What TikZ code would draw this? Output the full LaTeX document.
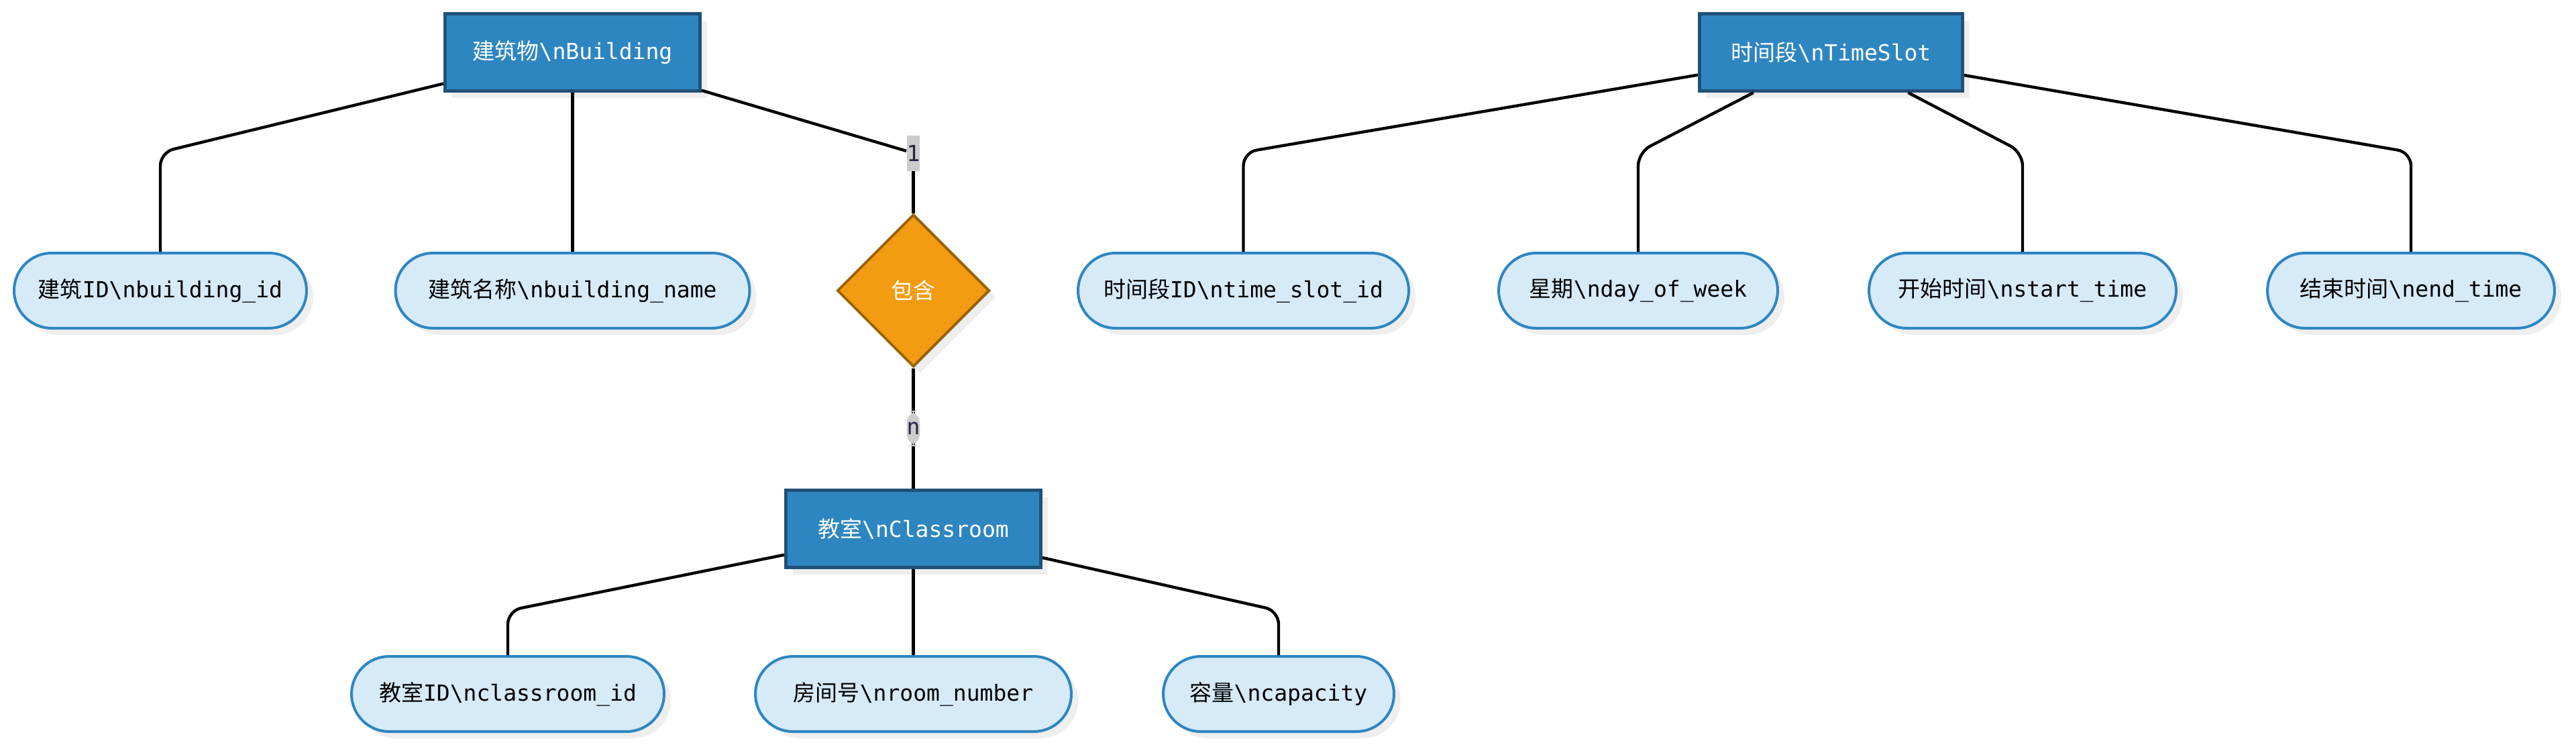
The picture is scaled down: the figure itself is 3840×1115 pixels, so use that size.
\documentclass[tikz,border=0pt]{standalone}
\usepackage{fontspec}
\setmonofont{DejaVu Sans Mono}
\newfontfamily\cjk{Noto Sans CJK SC}
\newcommand{\zh}[1]{{\cjk #1}}
\usetikzlibrary{shapes.geometric,shadows}
\definecolor{entfill}{HTML}{2E86C1}
\definecolor{entline}{HTML}{205078}
\definecolor{attfill}{HTML}{D6EAF8}
\definecolor{attline}{HTML}{2E86C1}
\definecolor{relfill}{HTML}{F39C12}
\definecolor{relline}{HTML}{9A6309}
\definecolor{shadowgray}{HTML}{EEEEEE}
\definecolor{cardfill}{HTML}{CCCCCC}
\definecolor{cardtext}{HTML}{262645}
\begin{document}
\begin{tikzpicture}[x=0.5pt,y=-0.5pt,
  every node/.style={font=\ttfamily\fontsize{16.5pt}{20pt}\selectfont},
  shade/.style={drop shadow={shadow xshift=5pt,shadow yshift=-5pt,fill=shadowgray,opacity=1}},
  entity/.style={shade,draw=entline,fill=entfill,line width=2.5pt,text=white,minimum height=57.5pt,minimum width=#1},
  attr/.style={shade,draw=attline,fill=attfill,line width=2pt,rounded corners=28pt,minimum height=56pt,minimum width=#1},
  rel/.style={shade,diamond,aspect=1,draw=relline,fill=relfill,line width=2pt,text=white,inner sep=0pt,minimum size=113.5pt},
  card/.style={fill=cardfill,text=cardtext,inner xsep=0pt,inner ysep=0pt,minimum height=26.5pt},
  conn/.style={line width=2.2pt,rounded corners=10pt}]
\useasboundingbox (0,0) rectangle (3840,1115);

\node[entity=190pt] (b) at (853.5,78) {\zh{建筑物}\textbackslash nBuilding};
\node[entity=196pt] (t) at (2729.5,78) {\zh{时间段}\textbackslash nTimeSlot};
\node[entity=190pt] (c) at (1361.5,788) {\zh{教室}\textbackslash nClassroom};
\node[rel] (h) at (1361.5,433) {\zh{包含}};

\node[attr=218pt] (b1) at (239,433) {\zh{建筑}ID\textbackslash nbuilding\_id};
\node[attr=264pt] (b2) at (853.5,433) {\zh{建筑名称}\textbackslash nbuilding\_name};
\node[attr=246.5pt] (t1) at (1853.5,433) {\zh{时间段}ID\textbackslash ntime\_slot\_id};
\node[attr=208pt] (t2) at (2442,433) {\zh{星期}\textbackslash nday\_of\_week};
\node[attr=229pt] (t3) at (3015,433) {\zh{开始时间}\textbackslash nstart\_time};
\node[attr=214pt] (t4) at (3594,433) {\zh{结束时间}\textbackslash nend\_time};
\node[attr=233pt] (c1) at (757,1034) {\zh{教室}ID\textbackslash nclassroom\_id};
\node[attr=235.5pt] (c2) at (1361.5,1034) {\zh{房间号}\textbackslash nroom\_number};
\node[attr=172pt] (c3) at (1906,1034) {\zh{容量}\textbackslash ncapacity};

\coordinate (kb1) at (239,227);
\coordinate (kt1) at (1853.5,227);
\coordinate (kt2) at (2442,227);
\coordinate (kt3) at (3015,227);
\coordinate (kt4) at (3594,227);
\coordinate (kc1) at (757,910);
\coordinate (kc3) at (1906,910);
\node[card] (one) at (1361.5,228) {1};

\draw[conn] (b) -- (kb1) -- (b1);
\draw[conn] (b) -- (b2);
\draw[conn] (b) -- (one);
\draw[conn] (one) -- (h);
\draw[conn] (h) -- (c) node[card,midway] (many) {n};
\draw[conn] (t) -- (kt1) -- (t1);
\draw[conn] (t) -- (kt2) -- (t2);
\draw[conn] (t) -- (kt3) -- (t3);
\draw[conn] (t) -- (kt4) -- (t4);
\draw[conn] (c) -- (kc1) -- (c1);
\draw[conn] (c) -- (c2);
\draw[conn] (c) -- (kc3) -- (c3);
\end{tikzpicture}
\end{document}
